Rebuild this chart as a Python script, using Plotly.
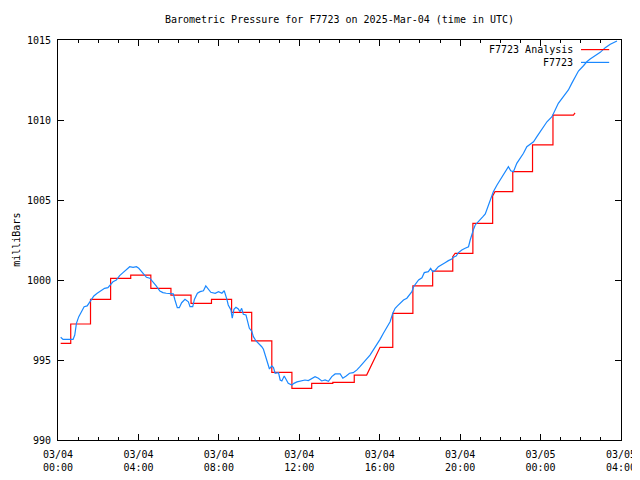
import pandas as pd
import plotly.graph_objects as go

base = pd.Timestamp("2025-03-04 00:00")

# F7723 Analysis (step line vertices): minutes after 03/04 00:00 UTC, pressure in mbar
analysis_minutes = [8, 38, 38, 97, 97, 157, 157, 217, 217, 277, 277, 337, 337, 397, 397, 458, 458, 518,
                    518, 578, 578, 638, 638, 698, 698, 757, 757, 820, 820, 884, 884, 921, 961, 999, 999,
                    1059, 1059, 1118, 1118, 1178, 1178, 1185, 1238, 1238, 1297, 1297, 1304, 1357, 1357,
                    1416, 1416, 1477, 1477, 1538, 1543]
analysis_mbar = [996.04, 996.04, 997.25, 997.25, 998.79, 998.79, 1000.10, 1000.10, 1000.31, 1000.31,
                 999.48, 999.48, 999.06, 999.06, 998.54, 998.54, 998.79, 998.79, 997.98, 997.98, 996.19,
                 996.19, 994.23, 994.23, 993.23, 993.23, 993.54, 993.54, 993.60, 993.60, 994.06, 994.06,
                 995.79, 995.79, 997.92, 997.92, 999.63, 999.63, 1000.56, 1000.56, 1001.46, 1001.67,
                 1001.67, 1003.54, 1003.54, 1005.25, 1005.52, 1005.52, 1006.77, 1006.77, 1008.44,
                 1008.44, 1010.31, 1010.31, 1010.44]

# F7723 observations
obs_minutes = [8, 15, 45, 50, 55, 62, 70, 78, 87, 95, 101, 107, 117, 129, 139, 149, 157, 164, 174, 184,
               194, 204, 214, 224, 234, 241, 249, 257, 264, 274, 284, 293, 304, 313, 323, 329, 344, 349,
               356, 362, 369, 379, 389, 394, 402, 407, 416, 424, 434, 441, 449, 456, 469, 479, 489, 496,
               504, 508, 516, 520, 525, 531, 538, 543, 548, 553, 561, 565, 571, 578, 583, 591, 601, 608,
               613, 618, 625, 631, 638, 643, 648, 653, 658, 663, 668, 675, 681, 687, 698, 704, 713, 722,
               737, 747, 757, 767, 777, 787, 797, 807, 817, 827, 842, 850, 860, 870, 881, 892, 901, 911,
               921, 931, 941, 951, 961, 971, 981, 991, 999, 1006, 1013, 1021, 1031, 1041, 1049, 1056,
               1061, 1069, 1076, 1086, 1093, 1105, 1112, 1118, 1125, 1135, 1145, 1155, 1165, 1175, 1180,
               1188, 1195, 1205, 1215, 1225, 1230, 1235, 1240, 1245, 1252, 1260, 1268, 1275, 1281, 1290,
               1299, 1310, 1319, 1329, 1339, 1344, 1351, 1359, 1369, 1379, 1389, 1399, 1409, 1419, 1429,
               1439, 1449, 1459, 1474, 1484, 1493, 1508, 1523, 1533, 1543, 1553, 1568, 1578, 1588, 1603,
               1618, 1633, 1648, 1668]
obs_mbar = [996.42, 996.29, 996.29, 996.56, 997.29, 997.71, 998.02, 998.33, 998.38, 998.64, 998.79,
            999.00, 999.17, 999.33, 999.48, 999.52, 999.69, 999.89, 1000.00, 1000.27, 1000.46, 1000.67,
            1000.83, 1000.79, 1000.83, 1000.73, 1000.52, 1000.31, 1000.17, 1000.11, 999.89, 999.63,
            999.31, 999.21, 999.17, 999.17, 999.13, 998.75, 998.27, 998.27, 998.58, 998.79, 998.64,
            998.33, 998.33, 998.79, 999.17, 999.27, 999.33, 999.63, 999.42, 999.23, 999.17, 999.27,
            999.17, 999.33, 998.79, 998.44, 998.13, 997.61, 998.17, 998.29, 998.19, 998.02, 998.23,
            997.86, 997.81, 997.39, 996.98, 996.81, 996.46, 996.19, 996.00, 995.83, 995.67, 995.31,
            994.89, 994.44, 994.63, 994.52, 994.17, 994.21, 994.21, 993.75, 993.69, 994.00, 993.75,
            993.54, 993.44, 993.54, 993.63, 993.69, 993.75, 993.71, 993.83, 993.96, 993.86, 993.69,
            993.75, 993.67, 993.96, 994.13, 994.13, 993.86, 994.00, 994.17, 994.21, 994.38, 994.58,
            994.83, 995.04, 995.31, 995.63, 995.94, 996.29, 996.67, 997.08, 997.39, 997.92, 998.23,
            998.38, 998.54, 998.75, 998.86, 999.06, 999.27, 999.58, 999.79, 1000.00, 1000.14, 1000.46,
            1000.52, 1000.73, 1000.52, 1000.58, 1000.83, 1000.98, 1001.08, 1001.21, 1001.31, 1001.42,
            1001.50, 1001.71, 1001.88, 1001.98, 1002.08, 1002.50, 1002.92, 1003.17, 1003.44, 1003.58,
            1003.79, 1003.96, 1004.13, 1004.48, 1005.00, 1005.52, 1005.94, 1006.25, 1006.56, 1006.88,
            1007.08, 1006.83, 1006.77, 1007.29, 1007.60, 1007.92, 1008.33, 1008.50, 1008.64, 1008.96,
            1009.27, 1009.58, 1009.89, 1010.21, 1010.63, 1011.04, 1011.46, 1011.88, 1012.29, 1012.64,
            1013.06, 1013.39, 1013.64, 1013.81, 1014.02, 1014.23, 1014.52, 1014.73, 1014.94]

tick_hours = [0, 4, 8, 12, 16, 20, 24, 28]
tick_labels = ["03/04<br>00:00", "03/04<br>04:00", "03/04<br>08:00", "03/04<br>12:00",
               "03/04<br>16:00", "03/04<br>20:00", "03/05<br>00:00", "03/05<br>04:00"]
y_ticks = [990, 995, 1000, 1005, 1010, 1015]

series_names = ["F7723 Analysis", "F7723"]
series_colors = ["#ff0000", "#1a88ff"]

FONT = "DejaVu Sans Mono"

analysis_t = base + pd.to_timedelta(analysis_minutes, unit="m")
obs_t = base + pd.to_timedelta(obs_minutes, unit="m")

fig = go.Figure()
fig.add_trace(go.Scatter(x=analysis_t, y=analysis_mbar, mode="lines", name=series_names[0],
                         line=dict(color=series_colors[0], width=1.2), showlegend=False))
fig.add_trace(go.Scatter(x=obs_t, y=obs_mbar, mode="lines", name=series_names[1],
                         line=dict(color=series_colors[1], width=1.2), showlegend=False))

axis_common = dict(showline=True, linecolor="black", linewidth=1, mirror="ticks",
                   ticks="inside", ticklen=6, tickcolor="black", tickwidth=1,
                   showgrid=False, zeroline=False, automargin=False,
                   tickfont=dict(family=FONT, size=10, color="black"))

fig.update_xaxes(type="date",
                 range=[base, base + pd.Timedelta(hours=28)],
                 tickvals=[base + pd.Timedelta(hours=h) for h in tick_hours],
                 ticktext=tick_labels,
                 ticklabelstandoff=5,
                 minor=dict(ticks="inside", ticklen=3, tickcolor="black",
                            dtick=3600000, tick0=base, showgrid=False),
                 **axis_common)
fig.update_yaxes(range=[990, 1015], tickvals=y_ticks, ticktext=[str(v) for v in y_ticks],
                 ticklabelstandoff=4,
                 **axis_common)

# legend in gnuplot style: right-aligned text, sample line to its right
legend_y = [0.976, 0.944]
for name, color, ly in zip(series_names, series_colors, legend_y):
    fig.add_annotation(x=0.918, y=ly, xref="paper", yref="paper", text=name, showarrow=False,
                       xanchor="right", yanchor="middle",
                       font=dict(family=FONT, size=10, color="black"))
    fig.add_shape(type="line", xref="paper", yref="paper", x0=0.929, x1=0.979, y0=ly, y1=ly,
                  line=dict(color=color, width=1.2))

fig.add_annotation(x=-0.075, y=0.5, xref="paper", yref="paper", text="milliBars", showarrow=False,
                   textangle=-90, xanchor="center", yanchor="middle",
                   font=dict(family=FONT, size=10, color="black"))

# the page body has an 8px margin, so the figure is made 8px smaller and the margins shifted
fig.update_layout(
    width=632, height=472,
    margin=dict(l=50, r=19, t=32, b=40, autoexpand=False),
    paper_bgcolor="white", plot_bgcolor="white",
    title=dict(text="Barometric Pressure for F7723 on 2025-Mar-04 (time in UTC)",
               x=0.5, xref="paper", xanchor="center", y=1 - 11 / 472, yref="container",
               yanchor="middle", font=dict(family=FONT, size=10, color="black")),
)

fig.write_html("out.html", post_script="document.body.style.overflow='hidden';")
